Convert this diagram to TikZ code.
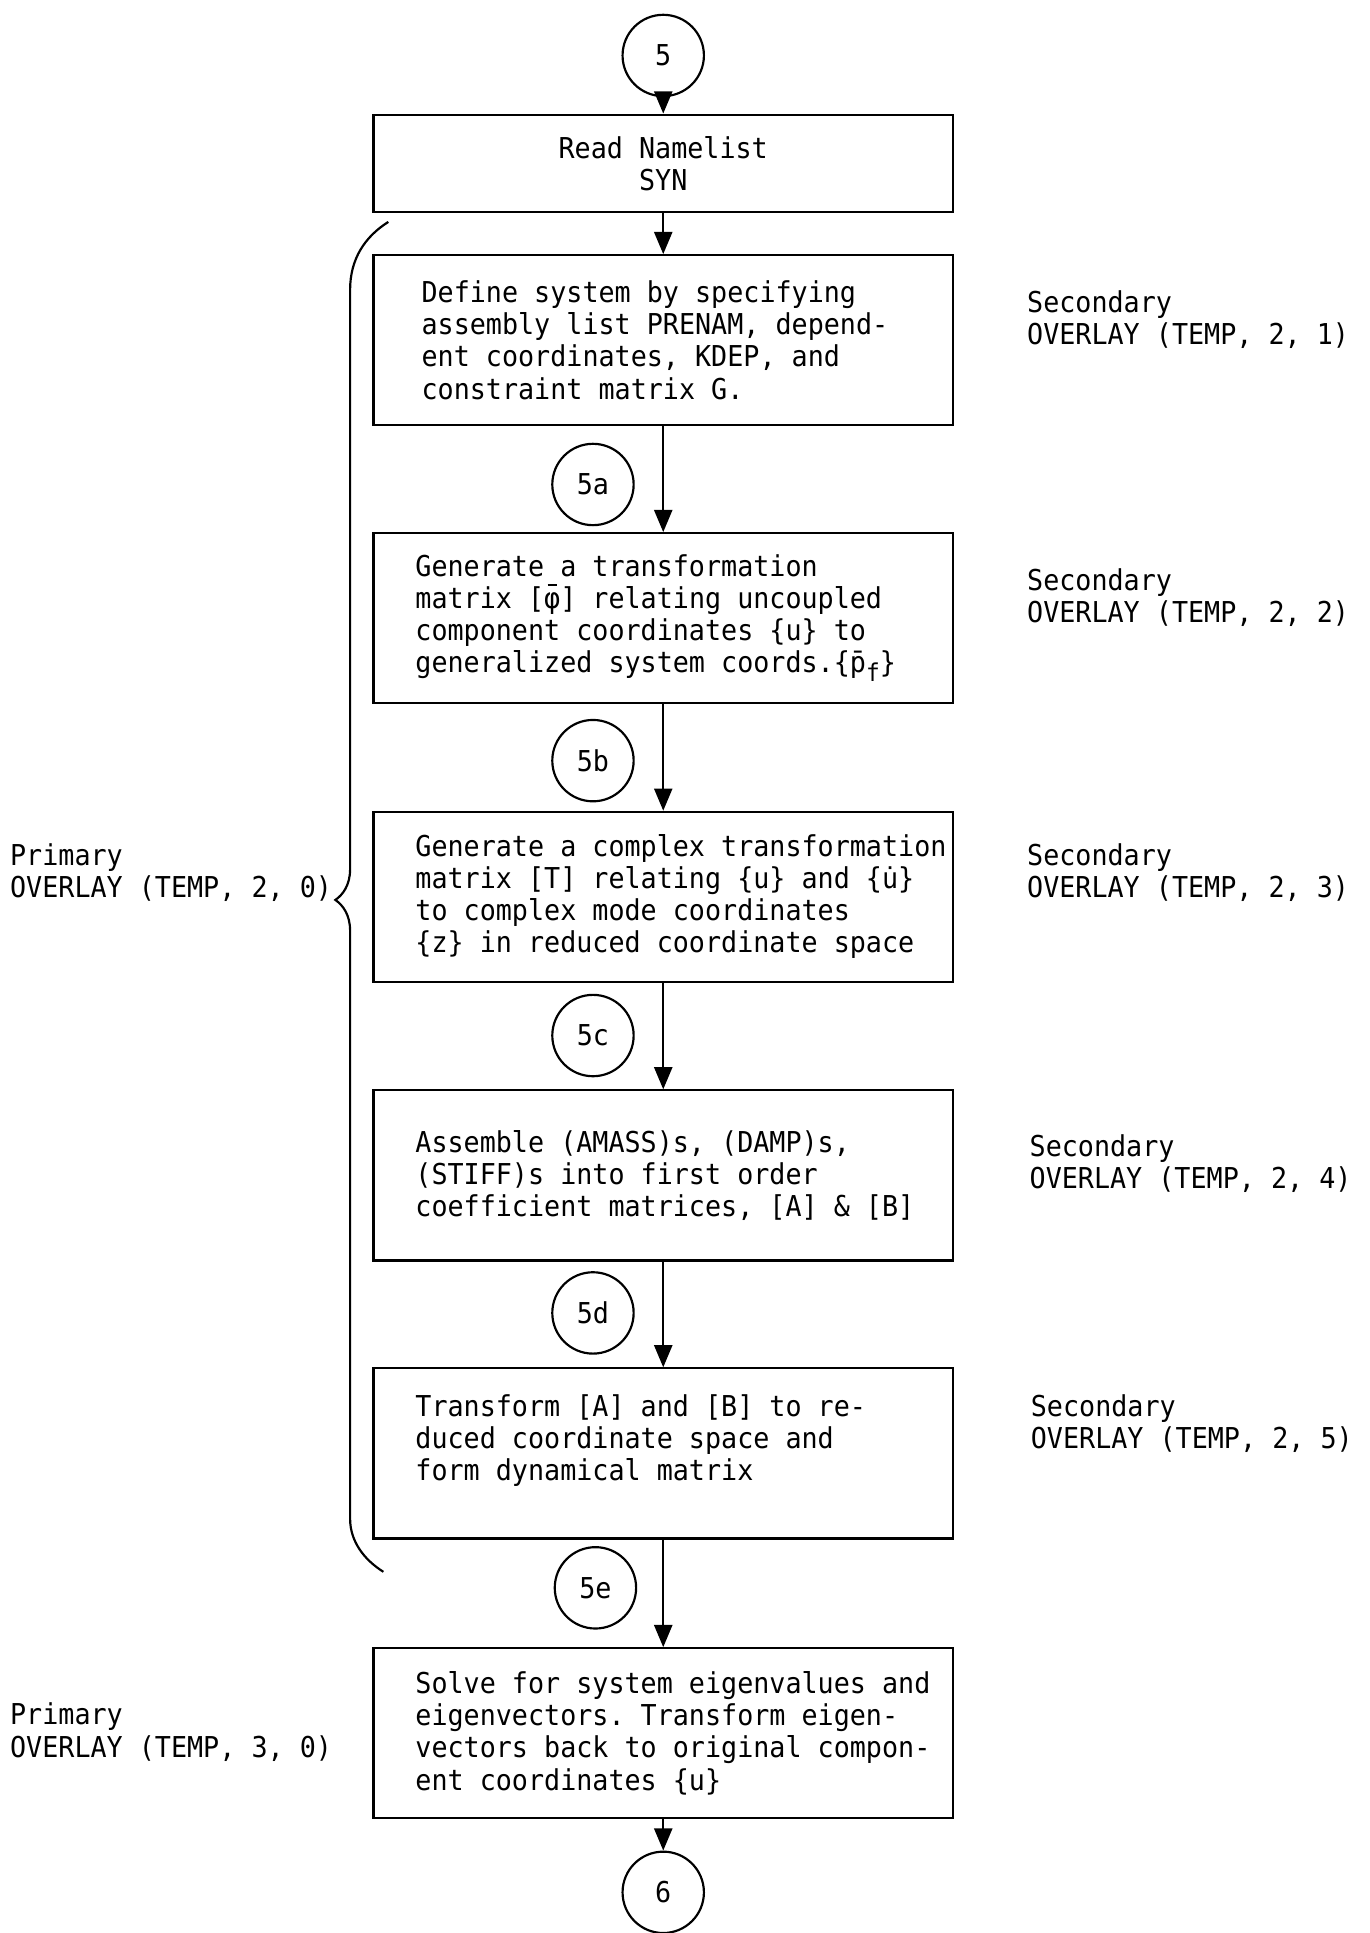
\documentclass[tikz,border=0pt]{standalone}
\usepackage{fontspec}
\usetikzlibrary{arrows.meta}
\newfontfamily\typefont{DejaVu Sans Mono}[FakeStretch=0.93]
\newcommand{\typesize}{\typefont\fontsize{19.9pt}{22.2pt}\selectfont\frenchspacing}
\newcommand{\barphi}{\ooalign{φ\cr\hidewidth\raisebox{0.8em}{\rule{0.32em}{0.07em}}\hidewidth\cr}}
\newcommand{\lowsub}[1]{\raisebox{-0.32em}{\fontsize{17pt}{17pt}\selectfont #1}}

\begin{document}
\begin{tikzpicture}[
    x=0.3mm, y=-0.3mm,
    every node/.style={font=\typesize},
    box/.style={draw,line width=1.5pt,text width=141mm,inner xsep=0pt,align=left,
        minimum height=41.4mm,
        execute at begin node={\leftskip=10.2mm\spaceskip=0pt\xspaceskip=0pt}},
    namebox/.style={draw,line width=1.5pt,minimum width=141mm,minimum height=23.7mm,align=center},
    conn/.style={draw,circle,line width=1.5pt,minimum size=19.8mm,inner sep=0pt},
    note/.style={anchor=west,align=left,inner sep=0pt},
    >={Triangle[length=5.4mm,width=4.4mm]}
]
\useasboundingbox (0,0) rectangle (1111,1568);

% main column
\node[conn] (c5) at (538,45) {5};
\node[namebox] (read) at (538,132.5) {Read Namelist\\SYN};
\node[box] (define) at (538,276) {\hspace{1.5mm}Define system by specifying\\
    \hspace*{1.5mm}assembly list PRENAM, depend-\\
    \hspace*{1.5mm}ent coordinates, KDEP, and\\
    \hspace*{1.5mm}constraint matrix G.};
\node[conn] (c5a) at (481,393) {5a};
\node[box] (phi) at (538,501.5) {Generate a transformation\\matrix [\barphi] relating uncoupled\\component coordinates \{u\} to\\generalized system coords.\{\={p}\lowsub{f}\}};
\node[conn] (c5b) at (481,617) {5b};
\node[box] (cplx) at (538,727.5) {Generate a complex transformation\\matrix [T] relating \{u\} and \{\.{u}\}\\to complex mode coordinates\\\{z\} in reduced coordinate space};
\node[conn] (c5c) at (481,840) {5c};
\node[box] (assemble) at (538,953.5) {Assemble (AMASS)s, (DAMP)s,\\(STIFF)s into first order\\coefficient matrices, [A] \& [B]};
\node[conn] (c5d) at (481,1065) {5d};
\node[box] (reduce) at (538,1179) {Transform [A] and [B] to re-\\duced coordinate space and\\form dynamical matrix\\~};
\node[conn] (c5e) at (483,1288) {5e};
\node[box] (solve) at (538,1406) {Solve for system eigenvalues and\\eigenvectors. Transform eigen-\\vectors back to original compon-\\ent coordinates \{u\}};
\node[conn] (c6) at (538,1535) {6};

\draw[->,line width=1.5pt] (c5)--(read);
\draw[->,line width=1.5pt] (read)--(define);
\draw[->,line width=1.5pt] (define)--(phi);
\draw[->,line width=1.5pt] (phi)--(cplx);
\draw[->,line width=1.5pt] (cplx)--(assemble);
\draw[->,line width=1.5pt] (assemble)--(reduce);
\draw[->,line width=1.5pt] (reduce)--(solve);
\draw[->,line width=1.5pt] (solve)--(c6);

% overlay labels
\node[note] (prim1) at (8,708) {Primary\\OVERLAY (TEMP, 2, 0)};
\node[note] (prim2) at (8,1405) {Primary\\OVERLAY (TEMP, 3, 0)};
\node[note] (sec1) at (833,259.5) {Secondary\\OVERLAY (TEMP, 2, 1)};
\node[note] (sec2) at (833,485) {Secondary\\OVERLAY (TEMP, 2, 2)};
\node[note] (sec3) at (833,708) {Secondary\\OVERLAY (TEMP, 2, 3)};
\node[note] (sec4) at (835,944) {Secondary\\OVERLAY (TEMP, 2, 4)};
\node[note] (sec5) at (836,1155) {Secondary\\OVERLAY (TEMP, 2, 5)};

% brace
\draw[line width=1.5pt] (315,180) .. controls (296,192) and (284,210) .. (284,235)
    -- (284,705) .. controls (284,718) and (278,726) .. (272,730)
    .. controls (278,734) and (284,742) .. (284,755)
    -- (284,1232) .. controls (284,1250) and (295,1265) .. (311,1275);
\end{tikzpicture}
\end{document}
